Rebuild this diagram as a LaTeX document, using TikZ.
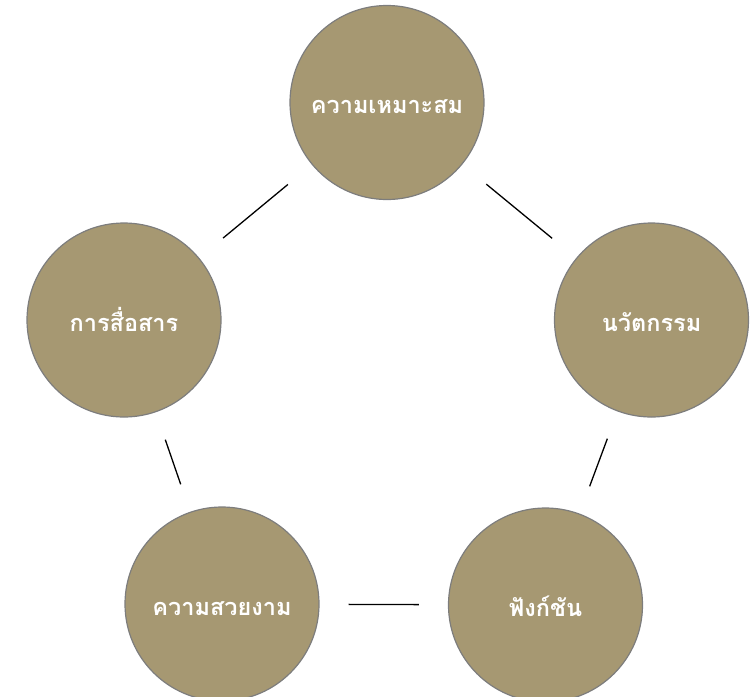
\documentclass[tikz,border=0pt]{standalone}
\usepackage{fontspec}
\newfontfamily\thaifont[Script=Thai]{Loma}
\definecolor{tan}{RGB}{166,152,114}
\definecolor{rim}{RGB}{125,125,125}
\begin{document}
\begin{tikzpicture}[x=1pt,y=-1pt,
  bubble/.style={circle, fill=tan, draw=rim, line width=1.2pt, minimum size=194pt, inner sep=0pt,
    text height=22pt, text depth=0pt,
    text=white, font=\thaifont\bfseries\fontsize{23.5}{28}\selectfont},
  link/.style={black, line width=1.3pt, shorten >=29pt, shorten <=29pt}]
\useasboundingbox (0,0) rectangle (756,697);
\node[bubble] (top) at (387,102.5) {ความเหมาะสม};
\node[bubble] (left) at (124,320) {การสื่อสาร};
\node[bubble] (right) at (651.5,320) {นวัตกรรม};
\node[bubble] (bl) at (222,604) {ความสวยงาม};
\node[bubble] (br) at (545.5,605) {ฟังก์ชัน};
\draw[link, shorten >=31pt, shorten <=31pt] (top) -- (left);
\draw[link, shorten >=31pt, shorten <=31pt] (top) -- (right);
\draw[link] (left) -- (bl);
\draw[link] (right) -- (br);
\draw[link] (bl) -- (br);
\end{tikzpicture}
\end{document}
